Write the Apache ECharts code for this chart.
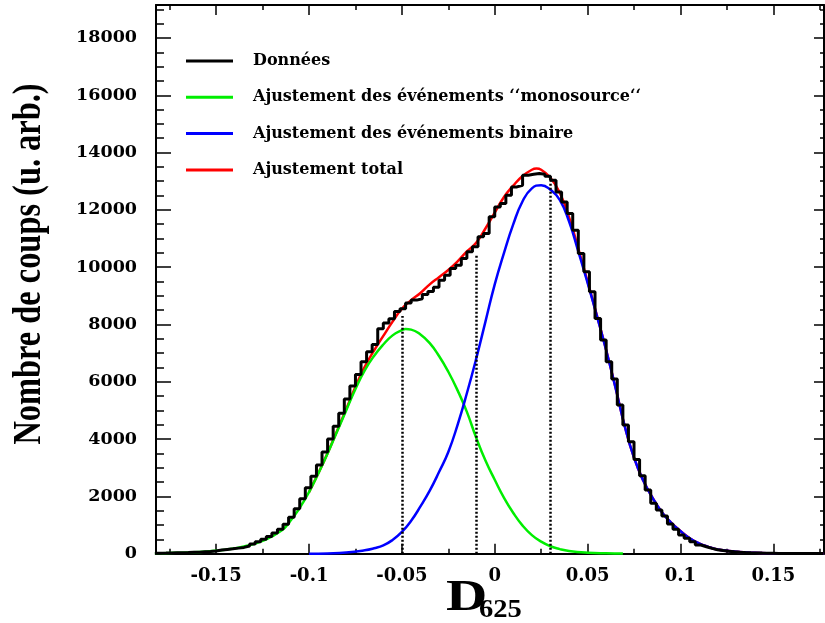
<!DOCTYPE html>
<html><head><meta charset="utf-8">
<script src="https://cdn.jsdelivr.net/npm/echarts@6/dist/echarts.min.js"></script>
<style>html,body{margin:0;padding:0;background:#fff}#c{width:825px;height:623px}</style>
</head><body><div id="c"></div>
<script>
// ---- data ----
const binStart = -0.183;
const binWidth = 0.003;
const counts = [
  20,22,25,30,35,40,48,55,65,75,95,130,150,170,195,220,270,340,420,500,
  600,720,850,1030,1270,1570,1920,2300,2700,3100,3550,4000,4450,4900,5400,5850,6250,6700,7050,7300,
  7850,8050,8200,8450,8550,8750,8850,8900,9050,9150,9300,9546,9720,9954,10070,10303,10535,10709,11058,11175,
  11756,12104,12221,12512,12802,12860,13209,13244,13268,13244,13174,13035,12627,12278,11873,11291,10478,9836,9138,8210,
  7454,6697,6094,5187,4489,3907,3292,2721,2222,1758,1524,1315,1036,850,652,537,419,303,244,186,
  140,110,85,65,50,40,32,26,21,17,14,11,9,8,6,5,4,4,3,3
];
const greenX = [-0.183,-0.175,-0.165,-0.155,-0.145,-0.135,-0.125,-0.115,-0.11,-0.105,-0.1,-0.095,-0.09,-0.085,-0.08,-0.075,-0.07,-0.065,-0.06,-0.055,-0.05,-0.048,-0.045,-0.04,-0.035,-0.03,-0.025,-0.02,-0.015,-0.01,-0.005,0,0.005,0.01,0.015,0.02,0.025,0.03,0.035,0.04,0.05,0.06,0.069];
const greenY = [15,25,45,80,140,250,450,800,1150,1600,2150,2800,3500,4250,5000,5750,6400,6900,7300,7620,7800,7840,7820,7650,7350,6900,6350,5700,4950,4050,3250,2580,1950,1420,980,650,420,260,160,95,35,12,5];
const blueX = [-0.1,-0.09,-0.08,-0.07,-0.065,-0.06,-0.055,-0.05,-0.045,-0.04,-0.035,-0.03,-0.025,-0.02,-0.015,-0.01,-0.005,0,0.005,0.01,0.015,0.02,0.025,0.03,0.035,0.04,0.045,0.05,0.055,0.06,0.065,0.07,0.075,0.08,0.085,0.09,0.095,0.1,0.105,0.11,0.115,0.12,0.13,0.14,0.15,0.16,0.177];
const blueY = [0,10,40,120,190,290,480,760,1150,1650,2200,2850,3550,4500,5600,6800,8100,9400,10500,11500,12300,12750,12860,12700,12350,11600,10550,9450,8300,7100,5800,4450,3350,2550,1950,1450,1080,790,540,360,240,150,70,30,15,7,2];
const redX = [-0.1,-0.095,-0.09,-0.085,-0.08,-0.075,-0.07,-0.065,-0.06,-0.055,-0.05,-0.045,-0.04,-0.035,-0.03,-0.025,-0.02,-0.015,-0.01,-0.005,0,0.005,0.01,0.015,0.02,0.0225,0.025,0.03,0.035,0.04,0.045,0.05,0.055,0.06,0.065,0.07,0.075,0.08,0.085,0.09,0.095,0.1,0.105,0.11,0.115,0.12,0.13,0.14,0.15,0.16,0.177];
const redY = [2150,2805,3510,4275,5040,5830,6520,7090,7600,8100,8550,8850,9100,9400,9650,9900,10200,10550,10850,11350,11900,12450,12850,13180,13400,13440,13400,13120,12600,11750,10650,9500,8320,7110,5810,4455,3352,2552,1951,1451,1081,790,540,360,240,150,70,30,15,7,2];
const dotX = [-0.05, -0.01, 0.03];
const dotTop = [8300, 10450, 13000];
const xMajor = [-0.15,-0.1,-0.05,0,0.05,0.1,0.15];
const xMinor = [-0.175,-0.125,-0.075,-0.025,0.025,0.075,0.125,0.175];
const yMajor = [0,2000,4000,6000,8000,10000,12000,14000,16000,18000];
const yMinor = [500,1000,1500,2500,3000,3500,4500,5000,5500,6500,7000,7500,8500,9000,9500,10500,11000,11500,12500,13000,13500,14500,15000,15500,16500,17000,17500,18500,19000];
const names = ['Données','Ajustement des événements \u2018\u2018monosource\u2018\u2018','Ajustement des événements binaire','Ajustement total'];

// ---- build ----
const X_MIN = -0.1824, X_MAX = 0.1773, Y_MIN = 0, Y_MAX = 19150;
const histData = counts.map((c,i)=>[binStart + i*binWidth, c]);
histData.push([binStart + counts.length*binWidth, counts[counts.length-1]]);
const zip = (xs,ys)=>xs.map((x,i)=>[x,ys[i]]);
const lbl = {color:'#000', fontFamily:'DejaVu Serif', fontWeight:'bold'};
const tickStyle = {color:'#000', width:1.5};
function xAx(pos, major, showLine){
  return {type:'value', min:X_MIN, max:X_MAX, position:pos, splitLine:{show:false},
    axisLine:{show:showLine, onZero:false, lineStyle:{color:'#000', width:2}},
    axisTick:{show:true, inside:true, length: major?10:5, customValues: major?xMajor:xMinor, lineStyle:tickStyle},
    axisLabel:(pos==='bottom'&&major)?Object.assign({show:true, customValues:xMajor, fontSize:18, margin:14,
      formatter:v=>String(+(+v).toFixed(3))}, lbl):{show:false}};
}
function yAx(pos, major, showLine){
  const left = pos==='left';
  return {type:'value', min:Y_MIN, max:Y_MAX, position:pos, splitLine:{show:false},
    axisLine:{show:showLine, onZero:false, lineStyle:{color:'#000', width:2}},
    axisTick:{show:true, inside:true, length: left?(major?15:8):(major?10:4), customValues: major?yMajor:yMinor, lineStyle:tickStyle},
    axisLabel:(left&&major)?Object.assign({show:true, customValues:yMajor, fontSize:17.5, margin:19,
      formatter:v=>String(v)}, lbl):{show:false}};
}
const option = {
  animation:false,
  backgroundColor:'#fff',
  grid:{left:156, top:5, right:1, bottom:69.3, containLabel:false},
  xAxis:[xAx('bottom',true,true), xAx('bottom',false,false), xAx('top',true,true), xAx('top',false,false)],
  yAxis:[yAx('left',true,true), yAx('left',false,false), yAx('right',true,true), yAx('right',false,false)],
  legend:{orient:'vertical', left:181, top:47, itemWidth:47, itemHeight:3, itemGap:18.3, icon:'rect',
    selectedMode:false, data:names,
    textStyle:{color:'#000', fontFamily:'DejaVu Serif', fontWeight:'bold', fontSize:16, lineHeight:18, padding:[0,0,0,15]}},
  series:[
    {name:names[3], type:'line', data:zip(redX,redY), smooth:true, symbol:'none', z:2,
      color:'#ff0000', lineStyle:{color:'#ff0000', width:2.5}},
    {name:names[1], type:'line', data:zip(greenX,greenY), smooth:true, symbol:'none', z:3,
      color:'#00ee00', lineStyle:{color:'#00ee00', width:2.5}},
    {name:names[2], type:'line', data:zip(blueX,blueY), smooth:true, symbol:'none', z:4,
      color:'#0000ff', lineStyle:{color:'#0000ff', width:2.5}},
    {name:names[0], type:'line', data:histData, step:'end', symbol:'none', z:5,
      color:'#000', lineStyle:{color:'#000', width:3}},
    {name:'pointillés', type:'line', data:[], symbol:'none', z:6,
      markLine:{silent:true, symbol:'none', label:{show:false},
        lineStyle:{color:'#000', width:2.5, type:[2,2]},
        data: dotX.map((x,i)=>[{coord:[x,0]},{coord:[x,dotTop[i]]}])}}
  ],
  graphic:[
    {type:'text', x:30, y:264, rotation:Math.PI/2, scaleX:0.81,
      style:{text:'Nombre de coups (u. arb.)', font:'bold 40px "Liberation Serif"', fill:'#000', align:'center', verticalAlign:'middle'}},
    {type:'text', x:446, y:599, scaleX:1.3,
      style:{text:'D', font:'bold 44px "Liberation Serif"', fill:'#000', align:'left', verticalAlign:'middle'}},
    {type:'text', x:479, y:610, scaleX:1.1,
      style:{text:'625', font:'bold 26px "Liberation Serif"', fill:'#000', align:'left', verticalAlign:'middle'}}
  ]
};
const chart = echarts.init(document.getElementById('c'), null, {renderer:'canvas'});
chart.setOption(option);
</script>
</body></html>
